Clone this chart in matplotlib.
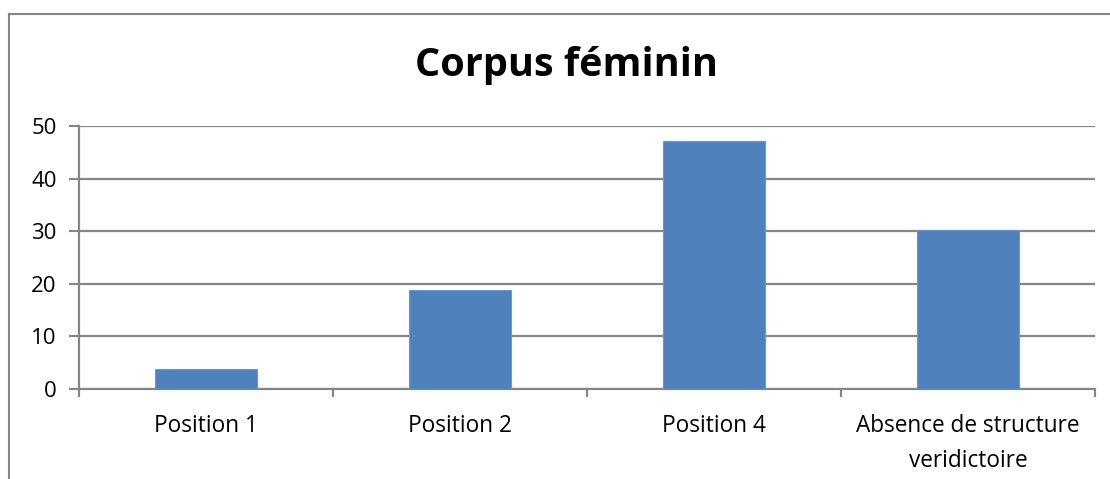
import numpy as np
import matplotlib
matplotlib.use('Agg')
from matplotlib import pyplot as plt
from matplotlib.lines import Line2D

categories=['Position 1', 'Position 2', 'Position 4', 'Absence de structure\nveridictoire']
values=[3.75, 18.8, 47.15, 30.15]
yticks=[0, 10, 20, 30, 40, 50]

plt.rcParams['font.family']=['Open Sans', 'DejaVu Sans']
grey='#868686'

fig=plt.figure(figsize=(11.1, 4.79), dpi=100)
ax=fig.add_axes([0.0712, 0.1879, 0.9153, 0.5491])

x=np.arange(len(categories))
ax.bar(x, values, width=0.4, color='#4f81bd', edgecolor='#6d97cc', linewidth=0.8, zorder=3)
ax.set_xlim(-0.5, len(categories)-0.5)
ax.set_ylim(0, 50)
ax.set_yticks(yticks)
ax.yaxis.grid(True, color=grey, linewidth=1.6, zorder=0)
for s in ['top', 'right']:
  ax.spines[s].set_visible(False)
for s in ['left', 'bottom']:
  ax.spines[s].set_color(grey)
  ax.spines[s].set_linewidth(1.6)

# ticks between categories on x
ax.set_xticks(np.arange(-0.5, len(categories), 1.0))
ax.set_xticklabels([])
ax.set_xticks(x, minor=True)
ax.set_xticklabels(categories, minor=True, fontsize=16.3, linespacing=1.6)
ax.tick_params(axis='x', which='major', length=6, color=grey, width=1.5)
ax.tick_params(axis='x', which='minor', length=0, pad=18)
ax.tick_params(axis='y', length=7, color=grey, width=1.5, labelsize=16, pad=9)

fig.text(0.51, 0.864, 'Corpus féminin', ha='center', va='center', fontsize=28.5, fontweight='bold')

# chart frame (cropped: only top and left visible)
fig.add_artist(Line2D([9/1110, 9/1110], [0, 1-14/479], color=grey, linewidth=1.5))
fig.add_artist(Line2D([9/1110, 1], [1-14/479, 1-14/479], color=grey, linewidth=1.5))

fig.savefig('out.png', dpi=100)
